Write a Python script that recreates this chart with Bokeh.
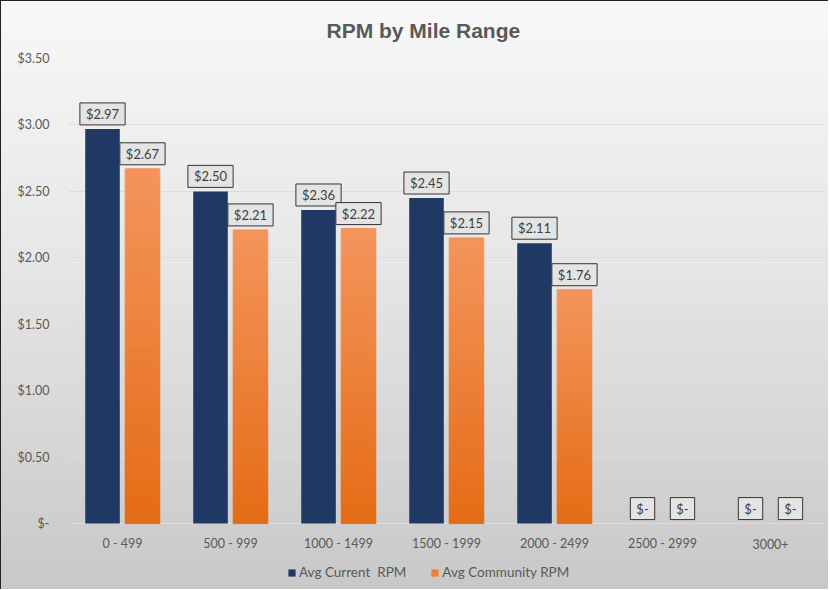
from bokeh.plotting import figure
from bokeh.models import (ColumnDataSource, FactorRange, Legend, LegendItem,
                          FixedTicker, CustomJSTickFormatter, Range1d)
from bokeh.core.properties import value
from bokeh.transform import dodge
from bokeh.embed import file_html
from bokeh.resources import INLINE

categories = ["0 - 499", "500 - 999", "1000 - 1499", "1500 - 1999", "2000 - 2499", "2500 - 2999", "3000+"]
current_rpm = [2.97, 2.50, 2.36, 2.45, 2.11, 0.0, 0.0]
community_rpm = [2.67, 2.21, 2.22, 2.15, 1.76, 0.0, 0.0]
y_ticks = [0, 0.5, 1.0, 1.5, 2.0, 2.5, 3.0, 3.5]

FONT = "Lato"
TXT = "#595959"
BLUE = "#1f3864"
OR_TOP = (0xf4, 0x95, 0x5c)
OR_BOT = (0xe5, 0x6b, 0x15)

def lab(v):
    return "$%.2f" % v if v > 0 else "$-"

src = ColumnDataSource(dict(
    cat=categories, cur=current_rpm, com=community_rpm, base=[0] * len(categories),
    cur_lab=[lab(v) for v in current_rpm], com_lab=[lab(v) for v in community_rpm],
))

# frame extends below zero to host category labels and legend
p = figure(x_range=FactorRange(*categories), y_range=Range1d(-0.496, 3.5),
           width=828, height=589, output_backend="svg", toolbar_location=None,
           x_axis_location=None,
           min_border_left=68, min_border_right=4, min_border_top=57, min_border_bottom=0)
p.background_fill_alpha = 0
p.border_fill_alpha = 0
p.outline_line_color = None
p.styles = {"background": "linear-gradient(to bottom, #f8f8f8 0%, #e6e6e6 45%, #c8c8c8 100%)",
            "box-shadow": "inset 1px 1px 0 #222"}

p.title.text = "RPM by Mile Range"
p.title.text_font = "Liberation Sans"
p.title.text_font_size = "21px"
p.title.text_color = TXT
p.title.align = "left"
p.title.offset = 258
p.title.standoff = 33

# bars
W = 0.32
OFF = 0.185
r1 = p.vbar(x=dodge("cat", -OFF, range=p.x_range), top="cur", width=W, source=src,
            fill_color=BLUE, line_color=None)

# orange bars with vertical gradient built from slices of each bar
N = 40
xs, bots, tops, cols = [], [], [], []
for c, v in zip(categories, community_rpm):
    if v <= 0:
        continue
    for i in range(N):
        f0, f1 = i / N, (i + 1) / N
        t = (i + 0.5) / N
        rgb = tuple(int(round(OR_BOT[k] + (OR_TOP[k] - OR_BOT[k]) * t)) for k in range(3))
        xs.append(c); bots.append(v * f0); tops.append(v * f1)
        cols.append("#%02x%02x%02x" % rgb)
gsrc = ColumnDataSource(dict(x=xs, bottom=bots, top=tops, color=cols))
p.vbar(x=dodge("x", OFF, range=p.x_range), bottom="bottom", top="top", width=W,
       source=gsrc, fill_color="color", line_color="color", line_width=1)

# category labels (x axis)
p.text(x="cat", y="base", text="cat", source=src, text_align="center", text_baseline="middle",
       y_offset=20, text_font=value(FONT), text_font_size="12.5px", text_color=TXT)

# legend (orange swatch proxy)
r2 = p.vbar(x=[categories[0]], top=[-5], bottom=[-6], width=0.1, fill_color="#ef7f33", line_color=None)
legend = Legend(items=[LegendItem(label="Avg Current  RPM", renderers=[r1]),
                       LegendItem(label="Avg Community RPM", renderers=[r2])],
                orientation="horizontal", location=(219, 9),
                background_fill_alpha=0, border_line_color=None,
                label_text_font=FONT, label_text_font_size="13.5px", label_text_color=TXT,
                glyph_width=9, glyph_height=9, spacing=24, label_standoff=3, padding=0, margin=0)
p.add_layout(legend)

# data labels
for col, lcol, off in (("cur", "cur_lab", -OFF), ("com", "com_lab", OFF)):
    p.text(x=dodge("cat", off, range=p.x_range), y=col, text=lcol, source=src,
           text_align="center", text_baseline="bottom", y_offset=-4,
           text_font=value(FONT), text_font_size="13px", text_color="#404040",
           background_fill_color="#e4e4e4", border_line_color="#333333",
           border_line_width=1, padding=[6, 6, 3, 3])

# y axis
p.yaxis.ticker = FixedTicker(ticks=y_ticks)
p.yaxis.formatter = CustomJSTickFormatter(code="return tick == 0 ? '$-' : '$' + tick.toFixed(2);")
p.yaxis.axis_line_color = None
p.yaxis.major_tick_line_color = None
p.yaxis.minor_tick_line_color = None
p.yaxis.major_label_text_font = FONT
p.yaxis.major_label_text_font_size = "12.5px"
p.yaxis.major_label_text_color = TXT
p.yaxis.major_label_standoff = 13
for g in p.grid:
    if g.dimension == 0:
        g.visible = False
    else:
        g.grid_line_color = "#dcdcdc"
        g.grid_line_width = 1

open("out.html", "w").write(file_html(p, INLINE))
